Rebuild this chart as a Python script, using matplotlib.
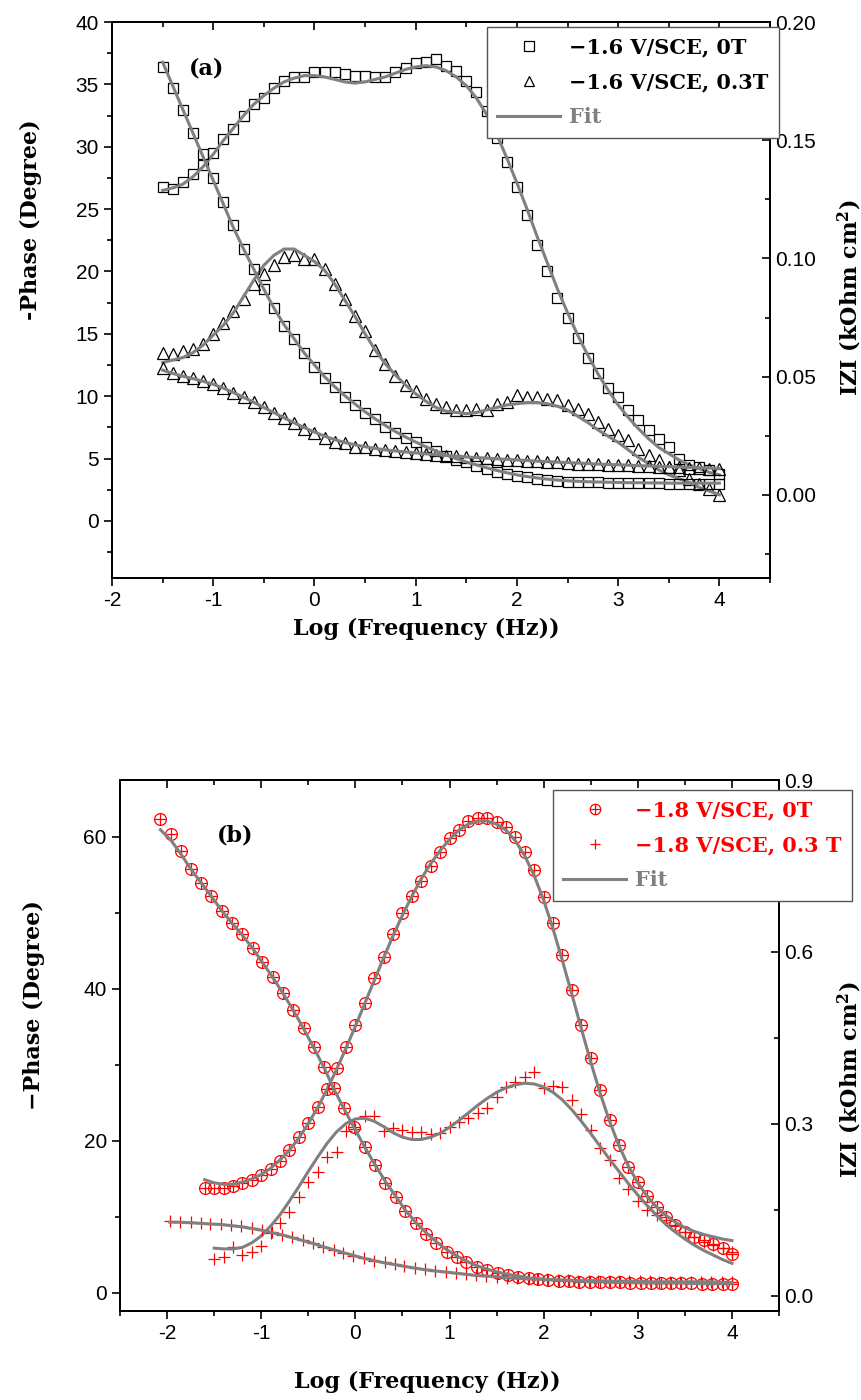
import matplotlib
matplotlib.use('Agg')
import matplotlib.pyplot as plt
from matplotlib.ticker import MultipleLocator, FormatStrFormatter
from matplotlib.legend_handler import HandlerTuple
from matplotlib.lines import Line2D

plt.rcParams['axes.unicode_minus'] = False
plt.rcParams['mathtext.fontset'] = 'dejavuserif'

GREY = '#808080'
RED = '#ff0000'
SERIF = dict(family='DejaVu Serif', weight='bold', size=15)
LABEL = dict(family='DejaVu Serif', weight='bold', size=16)

# log(f) grid, 10 points per decade
logf = [-2.1, -2.0, -1.9, -1.8, -1.7, -1.6, -1.5, -1.4, -1.3, -1.2,
        -1.1, -1.0, -0.9, -0.8, -0.7, -0.6, -0.5, -0.4, -0.3, -0.2,
        -0.1, 0.0, 0.1, 0.2, 0.3, 0.4, 0.5, 0.6, 0.7, 0.8,
        0.9, 1.0, 1.1, 1.2, 1.3, 1.4, 1.5, 1.6, 1.7, 1.8,
        1.9, 2.0, 2.1, 2.2, 2.3, 2.4, 2.5, 2.6, 2.7, 2.8,
        2.9, 3.0, 3.1, 3.2, 3.3, 3.4, 3.5, 3.6, 3.7, 3.8,
        3.9, 4.0]
logf_a = logf[6:]
# the |Z| points in (b) sit on a slightly wider spacing
logf_z0_b = [-2.07, -1.96, -1.85, -1.75, -1.64, -1.53, -1.42, -1.31, -1.20, -1.09,
             -0.99, -0.88, -0.77, -0.66, -0.55, -0.44, -0.33, -0.23, -0.12, -0.01,
             0.10, 0.21, 0.32, 0.43, 0.53, 0.64, 0.75, 0.86, 0.97, 1.08,
             1.18, 1.29, 1.40, 1.51, 1.62, 1.73, 1.84, 1.94, 2.05, 2.16,
             2.27, 2.38, 2.49, 2.60, 2.70, 2.81, 2.92, 3.03, 3.14, 3.25,
             3.35, 3.46, 3.57, 3.68, 3.79, 3.90, 4.00]
logf_z3_b = [-1.97, -1.86, -1.75, -1.64, -1.54, -1.43, -1.32, -1.21, -1.10, -0.99,
             -0.89, -0.78, -0.67, -0.56, -0.45, -0.34, -0.23, -0.13, -0.02, 0.09,
             0.20, 0.31, 0.42, 0.52, 0.63, 0.74, 0.85, 0.96, 1.07, 1.18,
             1.28, 1.39, 1.50, 1.61, 1.72, 1.83, 1.93, 2.04, 2.15, 2.26,
             2.37, 2.48, 2.58, 2.69, 2.80, 2.91, 3.02, 3.13, 3.23, 3.34,
             3.45, 3.56, 3.67, 3.78, 3.89, 4.00]

# ---- (a) -1.6 V/SCE ----
phase_0T_a = [26.8, 26.6, 27.2, 27.8, 28.5, 29.5, 30.6, 31.4, 32.5, 33.4,
              33.9, 34.7, 35.3, 35.6, 35.6, 36.0, 36.0, 36.0, 35.8, 35.7,
              35.7, 35.6, 35.6, 36.0, 36.3, 36.7, 36.8, 37.0, 36.5, 36.1,
              35.3, 34.4, 32.9, 30.7, 28.8, 26.8, 24.5, 22.1, 20.0, 17.9,
              16.3, 14.7, 13.1, 11.9, 10.7, 9.9, 8.9, 8.1, 7.3, 6.6,
              5.9, 5.0, 4.5, 4.3, 4.1, 3.8]
phase_03T_a = [13.5, 13.4, 13.6, 13.8, 14.2, 15.0, 15.9, 16.8, 17.8, 19.0,
               19.8, 20.5, 21.2, 21.3, 21.0, 21.0, 20.2, 19.0, 17.8, 16.4,
               15.2, 13.7, 12.6, 11.6, 10.9, 10.4, 9.8, 9.4, 9.1, 8.9,
               8.9, 9.0, 8.9, 9.4, 9.5, 10.1, 9.9, 9.9, 9.8, 9.7,
               9.3, 9.0, 8.6, 7.9, 7.4, 6.9, 6.5, 5.8, 5.3, 4.9,
               4.3, 4.1, 3.4, 3.0, 2.6, 2.1]
z_0T_a = [0.181, 0.172, 0.163, 0.153, 0.144, 0.134, 0.124, 0.114, 0.104, 0.0955,
          0.087, 0.079, 0.0714, 0.066, 0.060, 0.054, 0.0495, 0.0456, 0.0414, 0.038,
          0.0347, 0.0321, 0.0287, 0.0262, 0.0241, 0.0224, 0.0203, 0.0188, 0.0165, 0.0150,
          0.0138, 0.0122, 0.0110, 0.0097, 0.0088, 0.0080, 0.0074, 0.0067, 0.0062, 0.0059,
          0.0057, 0.0055, 0.0054, 0.0053, 0.0052, 0.0051, 0.0050, 0.0050, 0.0049, 0.0049,
          0.0048, 0.0048, 0.0048, 0.0047, 0.0047, 0.0047]
z_03T_a = [0.0537, 0.0516, 0.0503, 0.0494, 0.0482, 0.0469, 0.0452, 0.0431, 0.0414, 0.0393,
           0.0372, 0.0347, 0.0325, 0.0304, 0.0279, 0.0262, 0.0241, 0.0226, 0.0220, 0.0205,
           0.0202, 0.0194, 0.0190, 0.0186, 0.0182, 0.0178, 0.0173, 0.0169, 0.0166, 0.0163,
           0.0161, 0.0158, 0.0156, 0.0153, 0.0150, 0.0148, 0.0145, 0.0143, 0.0140, 0.0138,
           0.0135, 0.0133, 0.0131, 0.0129, 0.0128, 0.0127, 0.0125, 0.0123, 0.0122, 0.0120,
           0.0118, 0.0117, 0.0115, 0.0113, 0.0112, 0.0110]
fit_phase_0T_a = [26.5, 26.7, 27.0, 27.6, 28.4, 29.4, 30.5, 31.5, 32.5, 33.4,
                  34.1, 34.7, 35.2, 35.5, 35.7, 35.7, 35.6, 35.4, 35.2, 35.1,
                  35.2, 35.4, 35.6, 35.9, 36.2, 36.4, 36.5, 36.4, 36.1, 35.6,
                  34.9, 33.9, 32.6, 31.0, 29.1, 27.1, 25.0, 22.8, 20.7, 18.6,
                  16.7, 14.9, 13.3, 11.8, 10.5, 9.3, 8.3, 7.4, 6.6, 5.9,
                  5.4, 4.9, 4.5, 4.2, 3.9, 3.7]
fit_phase_03T_a = [12.7, 12.9, 13.1, 13.5, 14.1, 14.9, 15.7, 16.7, 18.0, 19.3,
                   20.5, 21.3, 21.8, 21.8, 21.3, 20.8, 20.1, 19.0, 17.7, 16.4,
                   15.0, 13.7, 12.6, 11.7, 10.9, 10.2, 9.6, 9.1, 8.8, 8.7,
                   8.6, 8.7, 8.9, 9.1, 9.3, 9.4, 9.5, 9.5, 9.4, 9.2,
                   8.9, 8.4, 7.9, 7.3, 6.8, 6.3, 5.7, 5.1, 4.6, 4.1,
                   3.7, 3.4, 3.1, 2.7, 2.4, 2.1]
fit_z_0T_a = [0.183, 0.173, 0.163, 0.153, 0.143, 0.133, 0.123, 0.113, 0.104, 0.0955,
              0.087, 0.079, 0.072, 0.066, 0.060, 0.055, 0.050, 0.0458, 0.042, 0.0385,
              0.0352, 0.0322, 0.0294, 0.0268, 0.0245, 0.0224, 0.0204, 0.0186, 0.0169, 0.0154,
              0.0140, 0.0127, 0.0115, 0.0104, 0.0094, 0.0085, 0.0078, 0.0072, 0.0067, 0.0063,
              0.0060, 0.0058, 0.0056, 0.0055, 0.0054, 0.0053, 0.0052, 0.0052, 0.0051, 0.0051,
              0.0050, 0.0050, 0.0050, 0.0050, 0.0050, 0.0050]
fit_z_03T_a = [0.0528, 0.0514, 0.0502, 0.0492, 0.0481, 0.0468, 0.0452, 0.0433, 0.0413, 0.0392,
               0.0370, 0.0348, 0.0326, 0.0305, 0.0285, 0.0266, 0.0249, 0.0234, 0.0222, 0.0212,
               0.0204, 0.0197, 0.0191, 0.0186, 0.0182, 0.0178, 0.0174, 0.0170, 0.0167, 0.0164,
               0.0161, 0.0158, 0.0156, 0.0153, 0.0151, 0.0148, 0.0146, 0.0143, 0.0141, 0.0139,
               0.0137, 0.0135, 0.0133, 0.0131, 0.0129, 0.0128, 0.0126, 0.0124, 0.0123, 0.0121,
               0.0120, 0.0118, 0.0117, 0.0115, 0.0114, 0.0112]

# ---- (b) -1.8 V/SCE ----
phase_0T_b = [13.8, 13.8, 13.8, 14.1, 14.5, 14.9, 15.5, 16.3, 17.4, 18.8,
              20.5, 22.4, 24.5, 26.8, 29.6, 32.4, 35.3, 38.2, 41.4, 44.2,
              47.2, 50.0, 52.2, 54.2, 56.2, 58.0, 59.9, 60.9, 62.1, 62.5,
              62.5, 62.0, 61.3, 60.0, 58.0, 55.7, 52.1, 48.7, 44.5, 39.9,
              35.3, 30.9, 26.7, 22.8, 19.5, 16.6, 14.6, 12.8, 11.3, 10.0,
              8.9, 8.0, 7.4, 7.0, 6.4, 5.9, 5.1]                       # from -1.6
phase_03T_b = [4.5, 4.7, 6.0, 5.0, 5.4, 6.2, 7.9, 9.2, 10.7, 12.6,
               14.6, 15.9, 17.9, 18.6, 21.3, 21.6, 23.3, 23.3, 21.3, 21.7,
               21.4, 21.2, 21.2, 20.9, 21.1, 21.8, 22.5, 23.0, 23.7, 24.3,
               25.8, 27.1, 27.8, 28.4, 29.1, 27.0, 27.2, 27.1, 25.4, 23.6,
               21.4, 19.1, 17.5, 15.1, 13.7, 12.1, 10.9, 10.3, 9.6, 8.8,
               8.0, 7.4, 6.7, 6.3, 5.9, 5.4]                           # from -1.5
z_0T_b = [0.832, 0.806, 0.776, 0.745, 0.720, 0.697, 0.671, 0.650, 0.631, 0.607,
          0.582, 0.556, 0.528, 0.499, 0.467, 0.434, 0.399, 0.362, 0.327, 0.294,
          0.259, 0.228, 0.196, 0.172, 0.148, 0.127, 0.107, 0.092, 0.076, 0.067,
          0.058, 0.050, 0.045, 0.039, 0.036, 0.032, 0.031, 0.029, 0.027, 0.026,
          0.025, 0.024, 0.024, 0.023, 0.023, 0.023, 0.022, 0.022, 0.022, 0.022,
          0.022, 0.022, 0.022, 0.021, 0.021, 0.021, 0.021]
z_03T_b = [0.130, 0.128, 0.128, 0.127, 0.125, 0.125, 0.123, 0.121, 0.118, 0.114,
           0.111, 0.106, 0.102, 0.097, 0.092, 0.085, 0.079, 0.074, 0.069, 0.065,
           0.060, 0.058, 0.055, 0.052, 0.048, 0.046, 0.043, 0.041, 0.039, 0.037,
           0.035, 0.034, 0.032, 0.031, 0.030, 0.029, 0.028, 0.028, 0.027, 0.027,
           0.026, 0.026, 0.026, 0.025, 0.025, 0.025, 0.025, 0.025, 0.024, 0.024,
           0.024, 0.024, 0.024, 0.024, 0.023, 0.023]
fit_phase_0T_b = [14.9, 14.5, 14.3, 14.3, 14.6, 15.0, 15.6, 16.4, 17.5, 18.8,
                  20.4, 22.3, 24.4, 26.8, 29.4, 32.2, 35.1, 38.1, 41.1, 44.1,
                  47.0, 49.7, 52.2, 54.5, 56.5, 58.2, 59.7, 60.9, 61.7, 62.1,
                  62.1, 61.7, 60.9, 59.5, 57.5, 54.9, 51.7, 47.9, 43.7, 39.3,
                  34.8, 30.4, 26.3, 22.6, 19.4, 16.7, 14.5, 12.7, 11.3, 10.2,
                  9.3, 8.6, 8.1, 7.7, 7.4, 7.1, 6.9]
fit_phase_03T_b = [5.9, 5.8, 5.8, 6.0, 6.6, 7.5, 8.8, 10.3, 12.1, 14.0,
                   16.0, 17.9, 19.7, 21.2, 22.3, 22.9, 23.0, 22.6, 21.9, 21.1,
                   20.5, 20.2, 20.2, 20.5, 21.0, 21.8, 22.7, 23.7, 24.7, 25.6,
                   26.4, 27.0, 27.4, 27.6, 27.5, 27.1, 26.4, 25.4, 24.1, 22.6,
                   21.0, 19.3, 17.6, 16.0, 14.4, 12.9, 11.5, 10.2, 9.0, 8.0,
                   7.1, 6.3, 5.6, 5.0, 4.4, 3.9]
fit_z_0T_b = [0.813, 0.795, 0.770, 0.745, 0.721, 0.697, 0.672, 0.650, 0.629, 0.606,
              0.582, 0.556, 0.528, 0.498, 0.466, 0.432, 0.397, 0.361, 0.326, 0.292,
              0.259, 0.228, 0.199, 0.173, 0.149, 0.128, 0.110, 0.094, 0.080, 0.069,
              0.060, 0.052, 0.046, 0.041, 0.037, 0.034, 0.031, 0.029, 0.028, 0.027,
              0.026, 0.025, 0.024, 0.024, 0.023, 0.023, 0.023, 0.022, 0.022, 0.022,
              0.022, 0.022, 0.021, 0.021, 0.021, 0.021, 0.021]
fit_z_03T_b = [0.128, 0.128, 0.127, 0.126, 0.125, 0.124, 0.122, 0.120, 0.117, 0.114,
               0.110, 0.106, 0.101, 0.096, 0.091, 0.085, 0.080, 0.075, 0.070, 0.065,
               0.061, 0.057, 0.054, 0.051, 0.048, 0.045, 0.043, 0.041, 0.039, 0.037,
               0.035, 0.034, 0.033, 0.031, 0.030, 0.029, 0.029, 0.028, 0.027, 0.027,
               0.026, 0.026, 0.026, 0.025, 0.025, 0.025, 0.025, 0.024, 0.024, 0.024,
               0.024, 0.024, 0.024, 0.024, 0.023, 0.023]


def style(ax, ax2, xlim, ylim, ylim2, ymaj, ymin, y2maj, y2min, y2fmt):
    ax.set_xlim(*xlim)
    ax.set_ylim(*ylim)
    ax2.set_ylim(*ylim2)
    ax.xaxis.set_major_locator(MultipleLocator(1))
    ax.xaxis.set_minor_locator(MultipleLocator(0.5))
    ax.yaxis.set_major_locator(MultipleLocator(ymaj))
    ax.yaxis.set_minor_locator(MultipleLocator(ymin))
    ax2.yaxis.set_major_locator(MultipleLocator(y2maj))
    ax2.yaxis.set_minor_locator(MultipleLocator(y2min))
    ax2.yaxis.set_major_formatter(FormatStrFormatter(y2fmt))
    for a in (ax, ax2):
        for s in a.spines.values():
            s.set_linewidth(1.4)
        a.tick_params(which='major', length=6, width=1.2, labelsize=15)
        a.tick_params(which='minor', length=3.5, width=1.2)
    ax.tick_params(which='both', direction='out')
    ax2.tick_params(which='both', direction='in')
    top = ax.secondary_xaxis('top')
    top.xaxis.set_major_locator(MultipleLocator(1))
    top.xaxis.set_minor_locator(MultipleLocator(0.5))
    top.tick_params(which='both', direction='in', labeltop=False, width=1.2)
    top.tick_params(which='major', length=6)
    top.tick_params(which='minor', length=3.5)
    top.spines['top'].set_linewidth(1.4)
    for lab in ax.get_xticklabels() + ax.get_yticklabels() + ax2.get_yticklabels():
        lab.set_family('Liberation Sans')


def add_legend(ax2, handles, labels, colors, x0, y0):
    leg = ax2.legend(handles, labels, handler_map={tuple: HandlerTuple(ndivide=1)},
                     loc='upper left', bbox_to_anchor=(x0 / 862, 1 - y0 / 1400),
                     bbox_transform=ax2.figure.transFigure, prop=SERIF, fancybox=False,
                     edgecolor='#555555', framealpha=1, borderaxespad=0, borderpad=0.5,
                     handlelength=3.0, handletextpad=0.45, labelspacing=0.72)
    leg.get_frame().set_linewidth(1.0)
    for t, c in zip(leg.get_texts(), colors):
        t.set_color(c)


fig = plt.figure(figsize=(8.62, 14.0), dpi=100)
fit = dict(color=GREY, lw=2.2, solid_joinstyle='round')

# ------------------------- panel (a)
ax = fig.add_axes([112 / 862, 1 - 578 / 1400, 658 / 862, 556 / 1400])
ax2 = ax.twinx()
style(ax, ax2, (-2, 4.5), (-4.57, 40), (-0.0351, 0.20), 5, 2.5, 0.05, 0.025, '%.2f')

sq = dict(ls='none', marker='s', ms=7.2, mfc='none', mec='k', mew=0.9)
tri = dict(ls='none', marker='^', ms=8.5, mfc='none', mec='k', mew=0.9)

ax.plot(logf_a, phase_0T_a, **sq)
ax.plot(logf_a, phase_03T_a, **tri)
ax.plot(logf_a, fit_phase_0T_a, **fit)
ax.plot(logf_a, fit_phase_03T_a, **fit)
ax2.plot(logf_a, z_0T_a, **sq)
ax2.plot(logf_a, z_03T_a, **tri)
ax2.plot(logf_a, fit_z_0T_a, **fit)
ax2.plot(logf_a, fit_z_03T_a, **fit)

ax.set_xlabel('Log (Frequency (Hz))', fontdict=LABEL)
ax.set_ylabel('-Phase (Degree)', fontdict=LABEL)
ax2.set_ylabel(r'IZI (kOhm cm$^{\mathbf{2}}$)', fontdict=LABEL, rotation=90)
ax.xaxis.set_label_coords(0.477, -0.072)
ax.yaxis.set_label_coords(-0.106, 0.644)
ax2.yaxis.set_label_coords(1.100, 0.505)
ax.text(0.144, 0.917, '(a)', transform=ax.transAxes, ha='center', va='center', **LABEL)

add_legend(ax2, [Line2D([], [], **dict(sq, ms=6.5)), Line2D([], [], **dict(tri, ms=7.5)),
                 Line2D([], [], **fit)],
           ['\u22121.6 V/SCE, 0T', '\u22121.6 V/SCE, 0.3T', 'Fit'],
           ['k', 'k', GREY], 487, 27)

# ------------------------- panel (b)
ax = fig.add_axes([120 / 862, 1 - 1311 / 1400, 659 / 862, 531 / 1400])
ax2 = ax.twinx()
style(ax, ax2, (-2.5, 4.5), (-2.37, 67.5), (-0.027, 0.9), 20, 10, 0.3, 0.15, '%.1f')

circ = dict(ls='none', marker='o', ms=8.5, mfc='none', mec=RED, mew=0.9)
plus = dict(ls='none', marker='+', ms=8.5, mec=RED, mew=0.9)

ax.plot(logf[5:], phase_0T_b, **circ)
ax.plot(logf[5:], phase_0T_b, **plus)
ax.plot(logf[6:], phase_03T_b, **plus)
ax.plot(logf[5:], fit_phase_0T_b, **fit)
ax.plot(logf[6:], fit_phase_03T_b, **fit)
ax2.plot(logf_z0_b, z_0T_b, **circ)
ax2.plot(logf_z0_b, z_0T_b, **plus)
ax2.plot(logf_z3_b, z_03T_b, **plus)
ax2.plot(logf_z0_b, fit_z_0T_b, **fit)
ax2.plot(logf_z3_b, fit_z_03T_b, **fit)

ax.set_xlabel('Log (Frequency (Hz))', fontdict=LABEL)
ax.set_ylabel('\u2212Phase (Degree)', fontdict=LABEL)
ax2.set_ylabel(r'IZI (kOhm cm$^{\mathbf{2}}$)', fontdict=LABEL, rotation=90)
ax.xaxis.set_label_coords(0.467, -0.113)
ax.yaxis.set_label_coords(-0.114, 0.576)
ax2.yaxis.set_label_coords(1.086, 0.435)
ax.text(0.175, 0.896, '(b)', transform=ax.transAxes, ha='center', va='center', **LABEL)

h_circ = (Line2D([], [], **dict(circ, ms=7.5)), Line2D([], [], **dict(plus, ms=7.5)))
add_legend(ax2, [h_circ, Line2D([], [], **dict(plus, ms=7.5)), Line2D([], [], **fit)],
           ['\u22121.8 V/SCE, 0T', '\u22121.8 V/SCE, 0.3 T', 'Fit'],
           [RED, RED, GREY], 553, 790)

fig.savefig('out.png', dpi=100)
